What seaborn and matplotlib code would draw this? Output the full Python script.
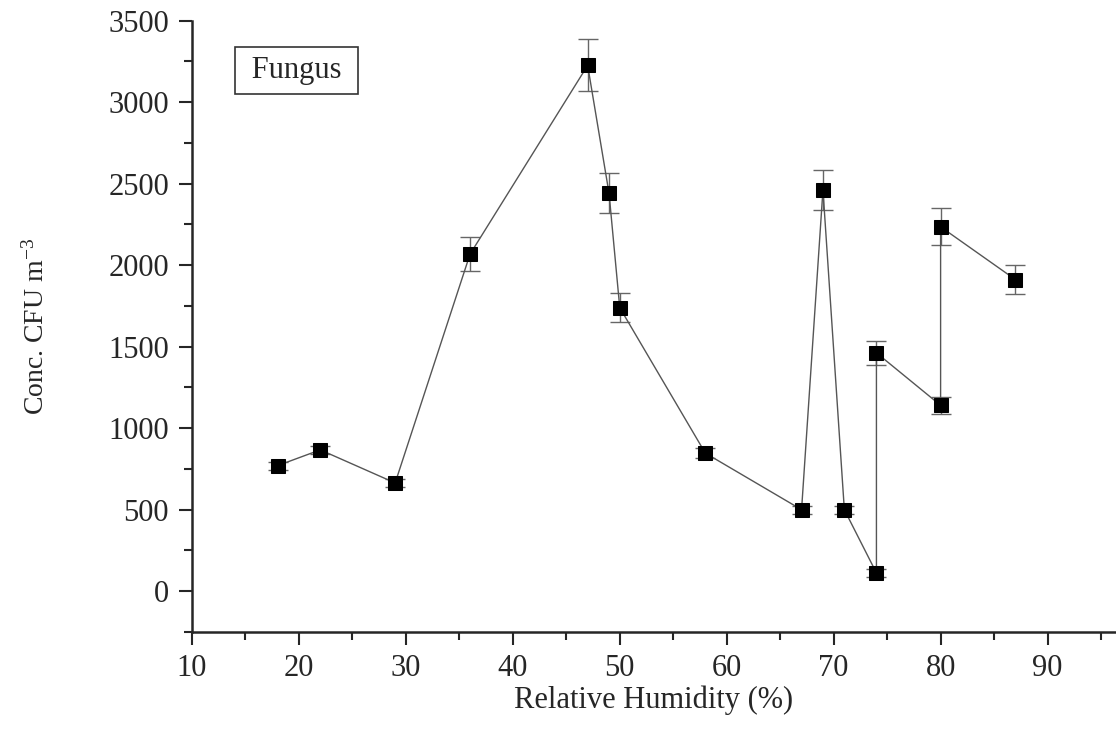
import numpy as np
import pandas as pd
import matplotlib
matplotlib.use('Agg')
import matplotlib.pyplot as plt
import seaborn as sns
from matplotlib.ticker import MultipleLocator

# data (order follows the drawn line)
humidity = [18, 22, 29, 36, 47, 49, 50, 58, 67, 69, 71, 74, 74, 80, 80, 87]
conc = [770, 867, 664, 2067, 3225, 2440, 1739, 847, 500, 2462, 500, 112, 1462, 1140, 2235, 1911]
conc_err = [25, 25, 25, 105, 160, 123, 87, 30, 25, 123, 25, 25, 72, 52, 113, 91]

df = pd.DataFrame({'rh': humidity, 'conc': conc, 'err': conc_err})

sns.set_style('ticks')
plt.rcParams['font.family'] = ['Liberation Serif', 'DejaVu Serif']
plt.rcParams['mathtext.fontset'] = 'stix'

fig = plt.figure(figsize=(11.16, 7.34), dpi=100)
ax = fig.add_axes([0.172, 0.139, 0.828, 0.833])

ax.errorbar(df['rh'], df['conc'], yerr=df['err'], fmt='none',
            ecolor='#666666', elinewidth=1, capsize=7, capthick=1, zorder=2)
sns.lineplot(data=df, x='rh', y='conc', sort=False, estimator=None,
             color='#555555', linewidth=1, marker='s', markersize=10.5,
             markerfacecolor='black', markeredgecolor='black', ax=ax, zorder=3)

ax.set_xlim(10, 96.4)
ax.set_ylim(-250, 3500)
ax.xaxis.set_major_locator(MultipleLocator(10))
ax.xaxis.set_minor_locator(MultipleLocator(5))
ax.yaxis.set_major_locator(MultipleLocator(500))
ax.yaxis.set_minor_locator(MultipleLocator(250))
ax.tick_params(which='major', length=9.5, width=1.5, labelsize=22, direction='out', pad=7)
ax.tick_params(which='minor', length=6, width=1.5, direction='out')
ax.tick_params(axis='x', which='major', pad=6)
for s in ['left', 'bottom']:
    ax.spines[s].set_linewidth(1.8)
sns.despine(ax=ax)

ax.set_xlabel('Relative Humidity (%)', fontsize=22, labelpad=2)
ax.set_ylabel('Conc. CFU m$^{\\mathregular{-3}}$', fontsize=20, labelpad=42)

ax.text(0.113, 0.918, ' Fungus ', transform=ax.transAxes, fontsize=22,
        ha='center', va='center',
        bbox=dict(boxstyle='square,pad=0.3', facecolor='white', edgecolor='#333333', linewidth=1.2))

fig.savefig('out.png', dpi=100)
